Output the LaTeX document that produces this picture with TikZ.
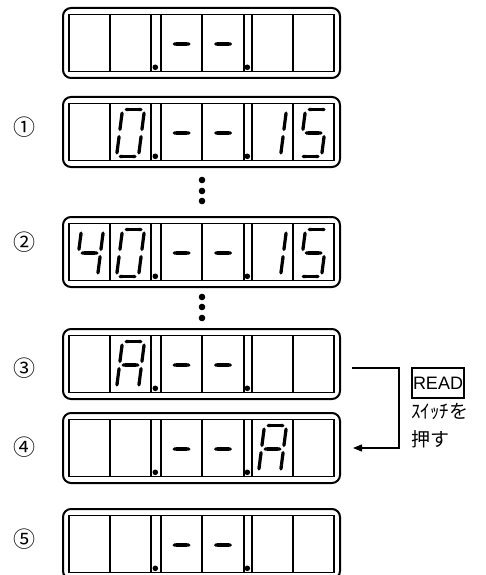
\documentclass[tikz,border=0pt]{standalone}
\usepackage{fontspec}
\usetikzlibrary{arrows.meta}
\newfontfamily\jpfont{Noto Sans CJK JP}
\newfontfamily\readfont{Liberation Sans}

% one seven-segment digit: x of centre, y of centre, lit segments
\newcommand{\digit}[3]{%
  \begin{scope}[shift={(#1,#2)}]
    \coordinate (a1) at (-8,-23.5); \coordinate (a2) at (14,-23.5);
    \coordinate (b1) at (14,-23.5); \coordinate (b2) at (11,0);
    \coordinate (c1) at (11,0);     \coordinate (c2) at (8,23.5);
    \coordinate (d1) at (-14,23.5); \coordinate (d2) at (8,23.5);
    \coordinate (e1) at (-11,0);    \coordinate (e2) at (-14,23.5);
    \coordinate (f1) at (-8,-23.5); \coordinate (f2) at (-11,0);
    \coordinate (g1) at (-11,0);    \coordinate (g2) at (11,0);
    \foreach \s in {#3} \draw[seg] (\s1) -- (\s2);
  \end{scope}}

% one display panel: name, top edge
\newcommand{\panel}[2]{%
  \node[panelbox] (#1) at (201.5,#2+35) {};
  \begin{scope}[shift={(63,#2)}]
    \draw[cellline] (6,6.5) rectangle (271,63.5);
    \foreach \x in {47,88,98,139,181,189,230}
      \draw[cellline] (\x,6.5) -- (\x,63.5);
    \fill (92.3,59.3) circle (2.8) (184.3,59.3) circle (2.8);
  \end{scope}
  \digit{181.5}{#2+36}{g}\digit{223}{#2+36}{g}}

\begin{document}
\begin{tikzpicture}[x=1pt,y=-1pt,
    panelbox/.style={draw,rounded corners=8pt,line width=2pt,
      minimum width=277pt,minimum height=70pt,inner sep=0pt},
    cellline/.style={line width=1.8pt},
    seg/.style={line width=3.2pt,{Triangle Cap}-{Triangle Cap},
      shorten <=2pt,shorten >=2pt},
    numlabel/.style={font=\jpfont\fontsize{22}{22}\selectfont,inner sep=0pt},
    jptext/.style={font=\jpfont\fontsize{19}{19}\selectfont,inner sep=0pt},
    readbox/.style={draw,line width=1.8pt,font=\readfont\fontsize{18}{18}\selectfont,
      minimum width=52pt,minimum height=30pt,inner sep=0pt},
    link/.style={line width=1.4pt,-{Triangle[length=9pt,width=7pt]}}]
  \clip (0,0) rectangle (485,575);

  % panels
  \panel{p0}{8}
  \panel{p1}{97}
  \panel{p2}{217}
  \panel{p3}{329}
  \panel{p4}{413}
  \panel{p5}{509}

  % lit digits
  \digit{130.5}{133}{a,b,c,d,e,f}
  \digit{272.5}{133}{b,c}
  \digit{313.5}{133}{a,f,g,c,d}
  \digit{89.5}{253}{f,g,b,c}
  \digit{130.5}{253}{a,b,c,d,e,f}
  \digit{272.5}{253}{b,c}
  \digit{313.5}{253}{a,f,g,c,d}
  \digit{130.5}{365}{a,b,c,e,f,g}
  \digit{272.5}{449}{a,b,c,e,f,g}

  % vertical ellipses
  \foreach \y in {180,191,201,297,307,318}
    \fill (202,\y) circle (3.3);

  % step numbers
  \node[numlabel] (n1) at (24,127) {①};
  \node[numlabel] (n2) at (24,242) {②};
  \node[numlabel] (n3) at (24,368) {③};
  \node[numlabel] (n4) at (24,447) {④};
  \node[numlabel] (n5) at (24,539) {⑤};

  % READ switch
  \coordinate (out3) at (352,368);
  \coordinate (in4) at (353,448);
  \draw[link] (out3) -- (399,368) |- (in4);
  \node[readbox] (read) at (438,383) {READ};
  \node[jptext,anchor=west] (sw) at (411,411) {ｽｲｯﾁを};
  \node[jptext,anchor=west] (push) at (411,439) {押す};
\end{tikzpicture}
\end{document}
